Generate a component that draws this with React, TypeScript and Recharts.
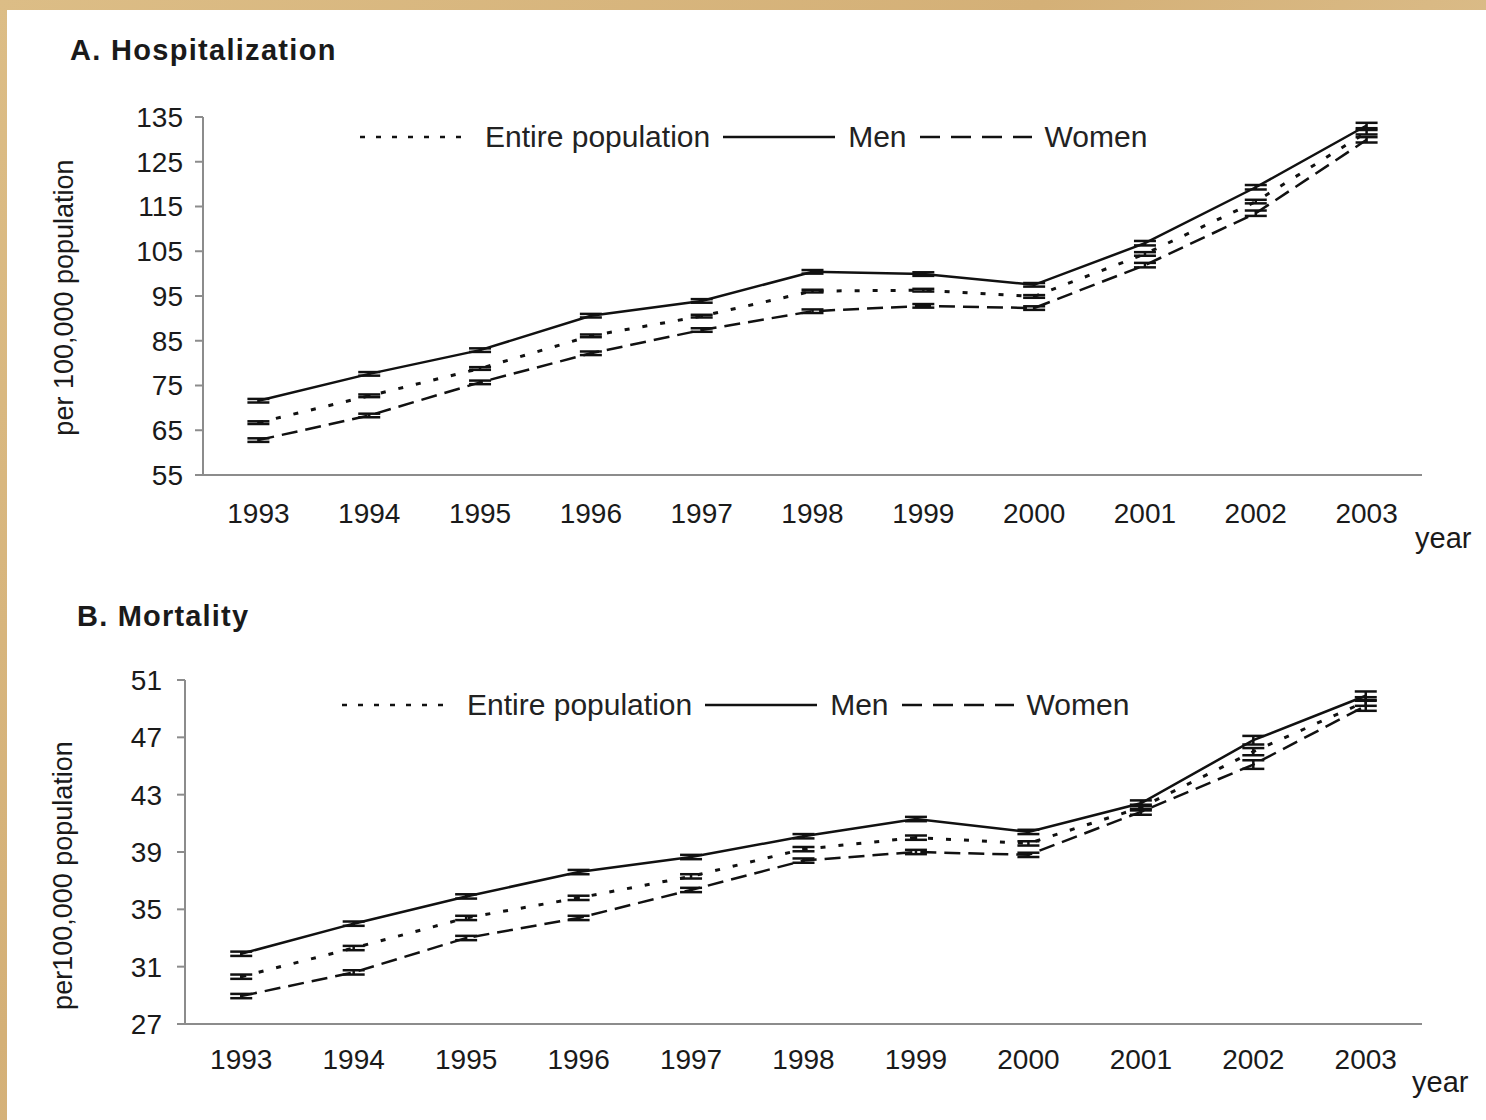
import React from "react";
import {
  LineChart,
  Line,
  XAxis,
  YAxis,
  ErrorBar,
  Legend
} from "recharts";

const years = [1993, 1994, 1995, 1996, 1997, 1998, 1999, 2000, 2001, 2002, 2003];
const yearBounds = [1992.5, 1993.5, 1994.5, 1995.5, 1996.5, 1997.5, 1998.5, 1999.5, 2000.5, 2001.5, 2002.5, 2003.5];

// A. Hospitalization (per 100,000 population)
const hospEntire = [66.7, 72.7, 78.8, 86.1, 90.5, 96.1, 96.3, 94.9, 104.4, 116.1, 131.6];
const hospMen = [71.6, 77.6, 82.9, 90.6, 93.9, 100.4, 99.9, 97.5, 106.8, 119.3, 133.1];
const hospWomen = [62.8, 68.3, 75.7, 82.2, 87.4, 91.6, 92.8, 92.3, 101.9, 113.5, 129.9];
const hospEntireErr = [0.3, 0.3, 0.3, 0.3, 0.3, 0.3, 0.3, 0.3, 0.4, 0.4, 0.5];
const hospMenErr = [0.4, 0.4, 0.4, 0.4, 0.4, 0.4, 0.4, 0.4, 0.5, 0.5, 0.6];
const hospWomenErr = [0.4, 0.4, 0.4, 0.4, 0.4, 0.4, 0.4, 0.4, 0.5, 0.6, 0.6];
const hospTicks = [55, 65, 75, 85, 95, 105, 115, 125, 135];

// B. Mortality (per 100,000 population)
const mortEntire = [30.3, 32.3, 34.4, 35.8, 37.3, 39.2, 40.0, 39.6, 42.1, 46.0, 49.5];
const mortMen = [31.9, 34.0, 35.9, 37.6, 38.65, 40.1, 41.3, 40.4, 42.4, 46.8, 49.9];
const mortWomen = [28.95, 30.6, 33.0, 34.4, 36.35, 38.4, 39.0, 38.8, 41.8, 45.1, 49.2];
const mortEntireErr = [0.15, 0.15, 0.15, 0.15, 0.15, 0.15, 0.15, 0.15, 0.2, 0.25, 0.3];
const mortMenErr = [0.15, 0.15, 0.15, 0.15, 0.15, 0.15, 0.15, 0.15, 0.2, 0.3, 0.3];
const mortWomenErr = [0.15, 0.15, 0.15, 0.15, 0.15, 0.15, 0.15, 0.15, 0.2, 0.3, 0.35];
const mortTicks = [27, 31, 35, 39, 43, 47, 51];

const seriesNames = ["Entire population", "Men", "Women"];

const FONT = '"Liberation Sans", Arial, sans-serif';
const AXIS = "#8c8c8c";
const INK = "#111";

const DOTTED = "5 13";
const DASHED = "16 8";
const legendDash = ["5 11", undefined, "20 11"];

function buildRows(entire, men, women, eErr, mErr, wErr) {
  return years.map((year, i) => ({
    year,
    entire: entire[i],
    men: men[i],
    women: women[i],
    entireErr: eErr[i],
    menErr: mErr[i],
    womenErr: wErr[i]
  }));
}

const hospData = buildRows(hospEntire, hospMen, hospWomen, hospEntireErr, hospMenErr, hospWomenErr);
const mortData = buildRows(mortEntire, mortMen, mortWomen, mortEntireErr, mortMenErr, mortWomenErr);

function LegendRow() {
  return (
    <div
      style={{
        display: "flex",
        alignItems: "center",
        fontFamily: FONT,
        fontSize: 30,
        color: "#222",
        whiteSpace: "nowrap",
        lineHeight: "34px"
      }}
    >
      {seriesNames.map((name, i) => (
        <React.Fragment key={name}>
          <svg width={112} height={10} style={{ display: "block" }}>
            <line
              x1={0}
              y1={5}
              x2={112}
              y2={5}
              stroke={INK}
              strokeWidth={2.5}
              strokeDasharray={legendDash[i]}
            />
          </svg>
          <span style={{ marginLeft: 13, marginRight: 13 }}>{name}</span>
        </React.Fragment>
      ))}
    </div>
  );
}

function Panel({ data, ticks, domain, margin, tickMarginY, tickMarginX, legendPos }) {
  return (
    <LineChart width={1486} height={560} data={data} margin={margin}>
      <XAxis
        xAxisId="z"
        type="number"
        dataKey="year"
        domain={[1992.5, 2003.5]}
        ticks={years}
        axisLine={false}
        tickLine={false}
        tickMargin={tickMarginX}
        height={50}
        interval={0}
        tick={{ fontSize: 28, fill: "#1a1a1a", fontFamily: FONT }}
      />
      <XAxis
        xAxisId="a"
        type="number"
        dataKey="year"
        domain={[1992.5, 2003.5]}
        ticks={yearBounds}
        tick={false}
        tickSize={8}
        height={8}
        stroke={AXIS}
        strokeWidth={2}
      />
      <YAxis
        type="number"
        domain={domain}
        ticks={ticks}
        interval={0}
        width={80}
        tickSize={8}
        tickMargin={tickMarginY}
        stroke={AXIS}
        strokeWidth={2}
        tick={{ fontSize: 28, fill: "#1a1a1a", fontFamily: FONT }}
      />
      <Legend
        layout="horizontal"
        verticalAlign="middle"
        align="center"
        content={() => <LegendRow />}
        wrapperStyle={{ top: legendPos.top, left: legendPos.left, width: "auto" }}
      />
      <Line
        xAxisId="a"
        dataKey="entire"
        stroke={INK}
        strokeWidth={3}
        strokeDasharray={DOTTED}
        dot={false}
        activeDot={false}
        isAnimationActive={false}
      >
        <ErrorBar dataKey="entireErr" width={11} stroke={INK} strokeWidth={2.5} direction="y" />
      </Line>
      <Line
        xAxisId="a"
        dataKey="men"
        stroke={INK}
        strokeWidth={2.5}
        dot={false}
        activeDot={false}
        isAnimationActive={false}
      >
        <ErrorBar dataKey="menErr" width={11} stroke={INK} strokeWidth={2.5} direction="y" />
      </Line>
      <Line
        xAxisId="a"
        dataKey="women"
        stroke={INK}
        strokeWidth={2.5}
        strokeDasharray={DASHED}
        dot={false}
        activeDot={false}
        isAnimationActive={false}
      >
        <ErrorBar dataKey="womenErr" width={11} stroke={INK} strokeWidth={2.5} direction="y" />
      </Line>
    </LineChart>
  );
}

const textBase: React.CSSProperties = {
  position: "absolute",
  fontFamily: FONT,
  color: "#1a1a1a",
  whiteSpace: "nowrap"
};

function YLabel({ text, cx, cy }) {
  return (
    <div
      style={{
        ...textBase,
        left: cx - 200,
        top: cy - 13,
        width: 400,
        height: 27,
        lineHeight: "27px",
        fontSize: 27,
        textAlign: "center",
        transform: "rotate(-90deg)"
      }}
    >
      {text}
    </div>
  );
}

export default function App() {
  return (
    <div
      style={{
        position: "absolute",
        left: 0,
        top: 0,
        width: 1486,
        height: 1120,
        overflow: "hidden",
        background: "linear-gradient(135deg, #dcbd86 0%, #d4b077 40%, #dec291 70%, #d2ae74 100%)"
      }}
    >
      <div
        style={{
          position: "absolute",
          left: 7,
          top: 10,
          width: 1479,
          height: 1110,
          background: "#ffffff"
        }}
      />

      <div style={{ ...textBase, left: 70, top: 36, fontSize: 29, lineHeight: "29px", fontWeight: "bold", letterSpacing: 1.3 }}>
        A. Hospitalization
      </div>
      <div style={{ ...textBase, left: 77, top: 602, fontSize: 29, lineHeight: "29px", fontWeight: "bold", letterSpacing: 1.2 }}>
        B. Mortality
      </div>

      <div style={{ position: "absolute", left: 0, top: 0 }}>
        <Panel
          data={hospData}
          ticks={hospTicks}
          domain={[55, 135]}
          margin={{ top: 117, right: 64, left: 123, bottom: 27 }}
          tickMarginY={12}
          tickMarginX={14}
          legendPos={{ top: 120, left: 360 }}
        />
      </div>
      <div style={{ position: "absolute", left: 0, top: 560 }}>
        <Panel
          data={mortData}
          ticks={mortTicks}
          domain={[27, 51]}
          margin={{ top: 120, right: 64, left: 105, bottom: 38 }}
          tickMarginY={15}
          tickMarginX={11}
          legendPos={{ top: 128, left: 342 }}
        />
      </div>

      <YLabel text="per 100,000 population" cx={64} cy={297} />
      <YLabel text="per100,000 population" cx={63} cy={875} />

      <div style={{ ...textBase, left: 1415, top: 524, fontSize: 29, lineHeight: "29px" }}>year</div>
      <div style={{ ...textBase, left: 1412, top: 1068, fontSize: 29, lineHeight: "29px" }}>year</div>
    </div>
  );
}
